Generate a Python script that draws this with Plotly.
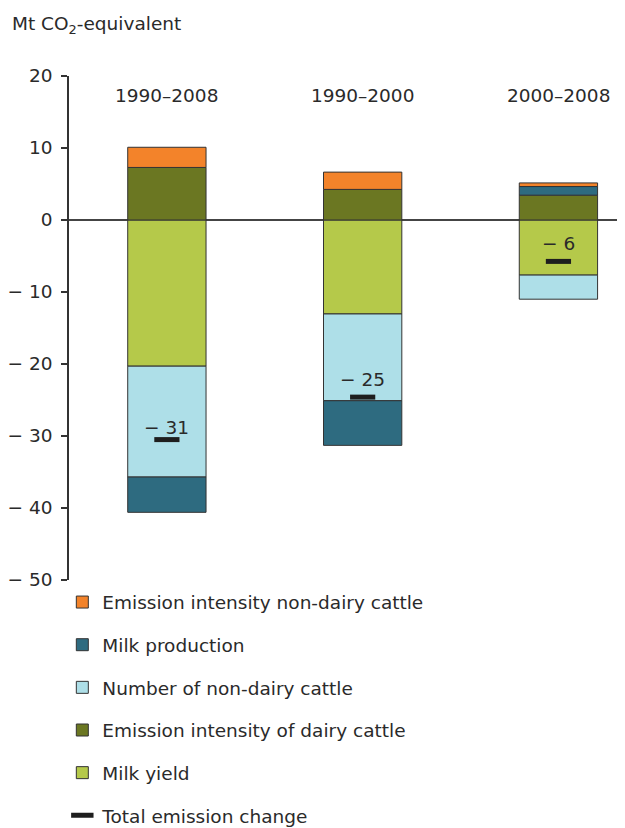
import plotly.graph_objects as go

periods = ["1990–2008", "1990–2000", "2000–2008"]
milk_yield = [-20.3, -13.05, -7.65]
ei_dairy = [7.3, 4.25, 3.45]
num_nondairy = [-15.4, -12.05, -3.35]
milk_production = [-4.9, -6.2, 1.2]
ei_nondairy = [2.8, 2.4, 0.5]
total_change = [-30.5, -24.6, -5.75]
total_labels = ["− 31", "− 25", "− 6"]
ytick_vals = [20, 10, 0, -10, -20, -30, -40, -50]
ytick_text = ["20", "10", "0", "− 10", "− 20", "− 30", "− 40", "− 50"]

FONT = "DejaVu Sans, Verdana, sans-serif"
FS = 18.5
TXT = "#2a2a2a"
OUT = "#333333"

fig = go.Figure()

series = [
    ("Milk yield", milk_yield, "#B5C94A", 5),
    ("Emission intensity of dairy cattle", ei_dairy, "#6B7722", 4),
    ("Number of non-dairy cattle", num_nondairy, "#AEDFE8", 3),
    ("Milk production", milk_production, "#2E6B80", 2),
    ("Emission intensity non-dairy cattle", ei_nondairy, "#F3832A", 1),
]
for i, (name, vals, col, rank) in enumerate(series):
    fig.add_trace(go.Bar(
        x=periods, y=vals, name=name, width=0.4,
        marker=dict(color=col, line=dict(color=OUT, width=1)),
        legendgroup=f"g{i}", legendrank=rank))

fig.add_trace(go.Scatter(
    x=periods, y=total_change, mode="markers", name="Total emission change",
    marker=dict(symbol="line-ew", size=18, color="#1e1e1e",
                line=dict(color="#1e1e1e", width=5)),
    legendgroup="g6", legendrank=6, hoverinfo="skip"))

shifts = [12, 18, 18]
for p, t, lab, s in zip(periods, total_change, total_labels, shifts):
    fig.add_annotation(x=p, y=t, text=lab, showarrow=False, yshift=s,
                       font=dict(size=FS, color=TXT, family=FONT))

for p in periods:
    fig.add_annotation(x=p, y=17.3, text=p, showarrow=False,
                       font=dict(size=FS, color=TXT, family=FONT))

fig.add_annotation(xref="paper", yref="paper", x=-0.106, y=1.101, xanchor="left",
                   yanchor="middle", text="Mt CO<sub>2</sub>-equivalent", showarrow=False,
                   font=dict(size=FS, color=TXT, family=FONT))

fig.update_layout(
    width=617, height=820,
    margin=dict(l=61, r=0, t=68, b=248, autoexpand=False),
    barmode="relative",
    plot_bgcolor="white", paper_bgcolor="white",
    font=dict(family=FONT, size=FS, color=TXT),
    showlegend=True,
    legend=dict(x=-0.012, y=-0.007, xanchor="left", yanchor="top",
                traceorder="grouped", tracegroupgap=15.6,
                font=dict(size=FS, color=TXT, family=FONT), itemwidth=30,
                bgcolor="rgba(0,0,0,0)"),
    xaxis=dict(range=[-0.5, 2.34], showticklabels=False, showline=False,
               showgrid=False, zeroline=False, ticks=""),
    yaxis=dict(range=[-50, 20], tickvals=ytick_vals, ticktext=ytick_text,
               showgrid=False, zeroline=True, zerolinecolor="#444444", zerolinewidth=1.5,
               showline=True, linecolor="#333333", linewidth=1.5,
               ticks="outside", ticklen=6, tickcolor="#333333", tickwidth=1.5,
               ticklabelstandoff=5,
               tickfont=dict(size=FS, color=TXT, family=FONT)),
)

fig.write_html("out.html")
